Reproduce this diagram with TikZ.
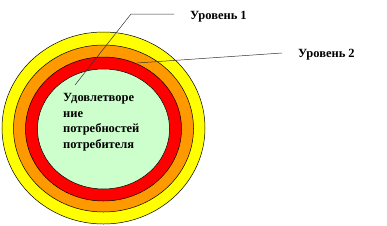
\documentclass[tikz,border=0pt]{standalone}
\usepackage{fontspec}
\setmainfont{Liberation Serif}
\definecolor{ringY}{HTML}{FFFF00}
\definecolor{ringO}{HTML}{FF9900}
\definecolor{ringR}{HTML}{FF0000}
\definecolor{ringG}{HTML}{CCFFCC}
\begin{document}
\begin{tikzpicture}[x=1pt,y=-1pt,
  ring/.style={draw=black,line width=0.5pt},
  lbl/.style={font=\fontsize{12.5}{15.5}\selectfont\bfseries,inner sep=0pt},
  callout/.style={draw=black!80,line width=0.5pt}]
\useasboundingbox (0,0) rectangle (387,225);
\path[ring,fill=ringY] (103.5,128) ellipse [x radius=101.5,y radius=96];
\path[ring,fill=ringO] (103.5,128.5) ellipse [x radius=90,y radius=83.5];
\path[ring,fill=ringR] (103.5,129) ellipse [x radius=78,y radius=72];
\path[ring,fill=ringG] (103.5,129) ellipse [x radius=66,y radius=60];
\node[lbl,anchor=north west,align=left] (center) at (63,93.5) {Удовлетворе\\ние\\потребностей\\потребителя};
\node[lbl,anchor=west] (l1) at (190,17) {Уровень 1};
\node[lbl,anchor=west] (l2) at (298,55) {Уровень 2};
\coordinate (p1) at (75,85);
\coordinate (k1) at (131,14);
\coordinate (e1) at (174,14);
\coordinate (p2) at (137,63);
\coordinate (e2) at (282,53);
\draw[callout] (p1) -- (k1) -- (e1);
\draw[callout] (p2) -- (e2);
\end{tikzpicture}
\end{document}
